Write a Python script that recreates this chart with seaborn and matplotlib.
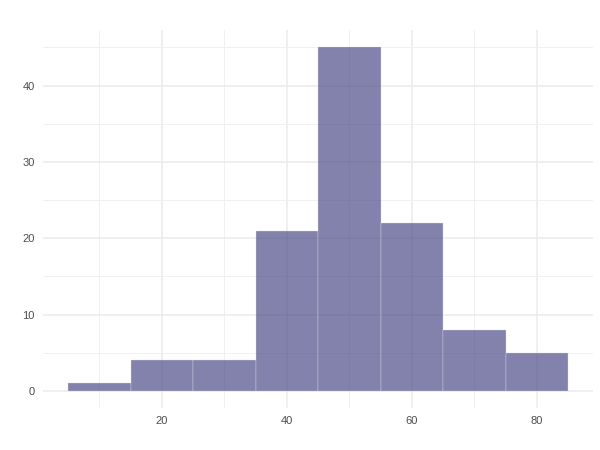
import matplotlib
matplotlib.use("Agg")
import matplotlib.pyplot as plt
import numpy as np
import seaborn as sns

# histogram bins
bin_edges = [5, 15, 25, 35, 45, 55, 65, 75, 85]
bin_centers = [10, 20, 30, 40, 50, 60, 70, 80]
counts = [1, 4, 4, 21, 45, 22, 8, 5]

sns.set_style("white")
plt.rcParams['font.family'] = ['Liberation Sans', 'DejaVu Sans']

fig = plt.figure(figsize=(6, 4.5), dpi=100)
ax = fig.add_axes([0.072, 0.093, 0.9167, 0.84])

sns.histplot(x=bin_centers, weights=counts, bins=bin_edges, ax=ax,
             color="#404080", alpha=0.65, edgecolor="#e0e0ea", linewidth=0.25)

ax.set_xlim(1, 89)
ax.set_ylim(-2.25, 47.25)
ax.set_xticks([20, 40, 60, 80])
ax.set_xticks([10, 30, 50, 70], minor=True)
ax.set_yticks([0, 10, 20, 30, 40])
ax.set_yticks([5, 15, 25, 35, 45], minor=True)
ax.grid(True, which="major", color="#ebebeb", linewidth=1.1)
ax.grid(True, which="minor", color="#f0f0f0", linewidth=0.7)
ax.set_axisbelow(True)
for s in ax.spines.values():
    s.set_visible(False)
ax.tick_params(which="both", length=0, labelsize=8, labelcolor="#4d4d4d", pad=6)
ax.set_xlabel("")
ax.set_ylabel("")

fig.savefig("out.png", dpi=100)
